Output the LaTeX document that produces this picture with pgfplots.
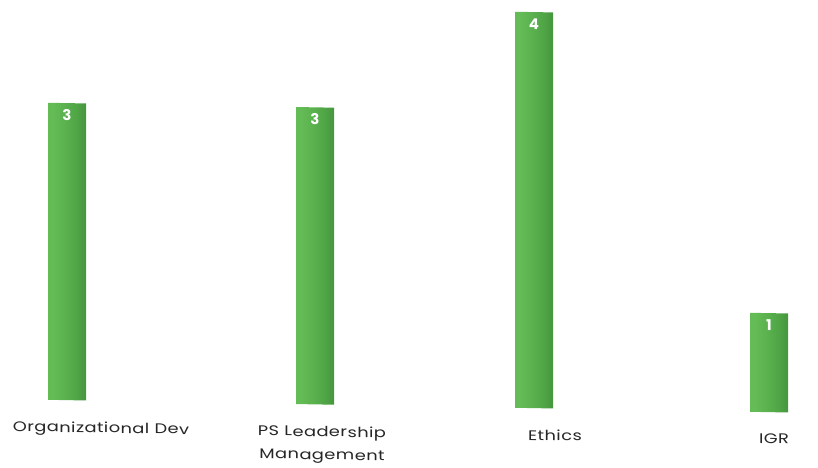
\documentclass[border=0pt]{standalone}
\usepackage{pgfplots}
\pgfplotsset{compat=1.18}
\usepackage{fontspec}
\setmainfont{Poppins}
\newfontfamily\labelfont[FakeStretch=1.28, LetterSpace=3]{Poppins}

% cylinder-like shading across each bar
\definecolor{barEdge}{RGB}{72,128,62}
\definecolor{barLight}{RGB}{100,188,86}
\definecolor{barMid}{RGB}{80,166,70}
\definecolor{barShade}{RGB}{60,132,54}
\definecolor{barDark}{RGB}{44,92,38}
\pgfdeclarehorizontalshading{barcyl}{100bp}{%
  color(0bp)=(barEdge); color(7bp)=(barLight); color(32bp)=(barLight);
  color(62bp)=(barMid); color(88bp)=(barShade); color(100bp)=(barDark)}

\pgfplotsset{
  cylbar/.style={draw=none, shading=barcyl, bar shift=0pt},
}

\begin{document}
\begin{tikzpicture}
% the baseline runs slightly downhill to the right
\begin{scope}[yslant=-0.0171]
\begin{axis}[
  scale only axis,
  width=818bp, height=468bp,
  xmin=0, xmax=818,
  ymin=-0.697, ymax=4.03,
  axis line style={draw=none},
  ytick=\empty,
  major tick length=0pt,
  xtick={101,322,555,774},
  xticklabels={Organizational Dev, {PS Leadership\\Management}, Ethics, IGR},
  xticklabel style={align=center, font=\labelfont\fontsize{14}{23}\selectfont, text=black!85, anchor=north, yshift=51bp},
  clip=false,
  ybar, bar width=38,
  nodes near coords,
  /pgf/number format/assume math mode=true,
  every node near coord/.append style={anchor=north, yshift=-3bp, text=white, font=\fontsize{15}{16}\selectfont\bfseries},
]
\addplot[cylbar] coordinates {(67,3)};
\addplot[cylbar] coordinates {(315,3)};
\addplot[cylbar] coordinates {(534,4)};
\addplot[cylbar] coordinates {(769,1)};
\end{axis}
\end{scope}
\pgfresetboundingbox
\useasboundingbox (0,0) rectangle (818bp,468bp);
\end{tikzpicture}
\end{document}
